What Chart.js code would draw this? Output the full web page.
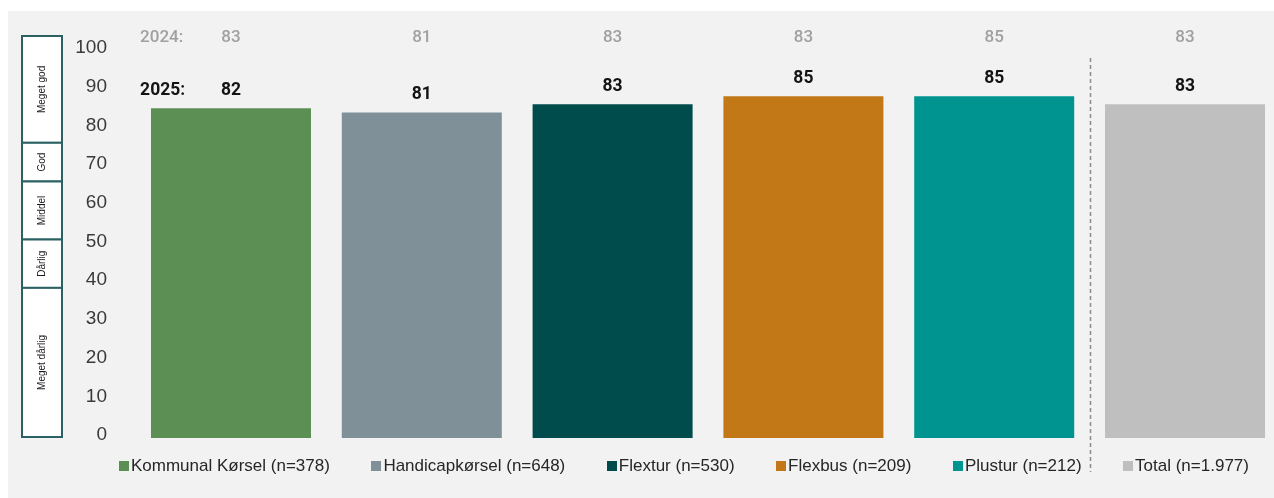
<!DOCTYPE html>
<html lang="da">
<head>
<meta charset="utf-8">
<title>Tilfredshed</title>
<script src="https://cdn.jsdelivr.net/npm/chart.js@4.4.1/dist/chart.umd.min.js"></script>
<style>
  html, body { margin: 0; padding: 0; background: #fff; overflow: hidden; width: 1274px; height: 498px; }
  #panel { position: absolute; left: 8px; top: 11px; right: 0; bottom: 0; background: #f2f2f2; }
  #wrap { position: absolute; left: 0; top: 0; width: 1282px; height: 498px; }
  #legend { position: absolute; left: 119px; top: 456px; display: flex; gap: 41.5px;
            font: 17px "Liberation Sans", Arial, sans-serif; color: #262626; white-space: nowrap; }
  .item { display: flex; align-items: center; }
  .box { width: 10px; height: 10px; margin-right: 2px; }
</style>
</head>
<body>
<div id="panel"></div>
<div id="wrap"><canvas id="chart" width="1282" height="498"></canvas></div>
<div id="legend"></div>
<script>
// Data
const categories = ['Kommunal Kørsel', 'Handicapkørsel', 'Flextur', 'Flexbus', 'Plustur', 'Total'];
const respondents = ['378', '648', '530', '209', '212', '1.977'];
const values2025 = [82, 81, 83, 85, 85, 83];
const values2024 = [83, 81, 83, 83, 85, 83];
const tickValues = [0, 10, 20, 30, 40, 50, 60, 70, 80, 90, 100];
const bandLabels = ['Meget god', 'God', 'Middel', 'Dårlig', 'Meget dårlig'];
const bandEdges = [100, 75, 65, 50, 37.5, 0];

const colors = ['#5c8f54', '#7f9099', '#004c4c', '#c27817', '#009490', '#bfbfbf'];

// legend under the bars
const legendEl = document.getElementById('legend');
categories.forEach((c, i) => {
    const item = document.createElement('div');
    item.className = 'item';
    item.innerHTML = `<span class="box" style="background:${colors[i]}"></span><span>${c} (n=${respondents[i]})</span>`;
    legendEl.appendChild(item);
});

// scale box, year rows, dashed separator
const annotations = {
    id: 'annotations',
    afterDatasetsDraw(chart) {
        const ctx = chart.ctx;
        const area = chart.chartArea;
        const x = chart.scales.x;
        const yt = chart.scales.yt;
        const bars = chart.getDatasetMeta(0).data;

        ctx.save();

        // rating bands on the left
        const bx = 22, bw = 40;
        for (let i = 0; i < bandLabels.length; i++) {
            const top = i === 0 ? area.top : yt.getPixelForValue(bandEdges[i]);
            const bottom = i === bandLabels.length - 1 ? area.bottom - 1 : yt.getPixelForValue(bandEdges[i + 1]);
            ctx.fillStyle = '#ffffff';
            ctx.fillRect(bx, top, bw, bottom - top);
            ctx.lineWidth = 2;
            ctx.strokeStyle = '#2b6163';
            ctx.strokeRect(bx, top, bw, bottom - top);
            ctx.save();
            ctx.translate(bx + bw / 2, (top + bottom) / 2);
            ctx.rotate(-Math.PI / 2);
            ctx.fillStyle = '#1a1a1a';
            ctx.font = '10px "Liberation Sans", Arial, sans-serif';
            ctx.textAlign = 'center';
            ctx.textBaseline = 'middle';
            ctx.fillText(bandLabels[i], 0, 0);
            ctx.restore();
        }

        // dashed line before Total
        const sepX = Math.round((x.getPixelForValue(4) + x.getPixelForValue(5)) / 2) + 0.5;
        ctx.beginPath();
        ctx.setLineDash([4, 3]);
        ctx.lineWidth = 1.5;
        ctx.strokeStyle = '#8c8c8c';
        ctx.moveTo(sepX, area.top + 22);
        ctx.lineTo(sepX, area.bottom + 34);
        ctx.stroke();
        ctx.setLineDash([]);

        ctx.textBaseline = 'middle';

        // 2024 row
        const rowY = area.top + 1.5;
        ctx.font = '500 17px Roboto, sans-serif';
        ctx.fillStyle = '#a0a0a0';
        ctx.textAlign = 'left';
        ctx.fillText('2024:', area.left + 4.5, rowY);
        ctx.textAlign = 'center';
        values2024.forEach((v, i) => ctx.fillText(String(v), bars[i].x, rowY));

        // 2025 row, just above each bar
        ctx.font = 'bold 17.5px Roboto, sans-serif';
        ctx.fillStyle = '#141414';
        ctx.textAlign = 'left';
        ctx.fillText('2025:', area.left + 4.5, bars[0].y - 18);
        ctx.textAlign = 'center';
        values2025.forEach((v, i) => ctx.fillText(String(v), bars[i].x, bars[i].y - 18));

        ctx.restore();
    }
};

new Chart(document.getElementById('chart').getContext('2d'), {
    type: 'bar',
    data: {
        labels: categories,
        datasets: [{
            label: '2025',
            data: values2025,
            backgroundColor: colors,
            borderWidth: 0,
            barPercentage: 0.8386,
            categoryPercentage: 1,
            yAxisID: 'y'
        }]
    },
    options: {
        responsive: false,
        animation: false,
        layout: { padding: { left: 73.6, right: 1.6, top: 36, bottom: 60 } },
        plugins: {
            legend: { display: false },
            tooltip: { enabled: false }
        },
        scales: {
            x: { display: false, offset: true, grid: { display: false } },
            y: { display: false, min: 0, max: 100 },
            yt: {
                position: 'left',
                min: -1.3,
                max: 102.6,
                grid: { display: false, drawTicks: false },
                border: { display: false },
                afterBuildTicks: s => { s.ticks = tickValues.map(v => ({ value: v })); },
                afterFit: s => {
                    s.width = 62;
                    s.paddingTop = 0;
                    s.paddingBottom = 0;
                },
                ticks: {
                    padding: 28.6,
                    labelOffset: 2,
                    color: '#3a3a3a',
                    font: { family: '"Liberation Sans", Arial, sans-serif', size: 19 }
                }
            }
        }
    },
    plugins: [annotations]
});
</script>
</body>
</html>
